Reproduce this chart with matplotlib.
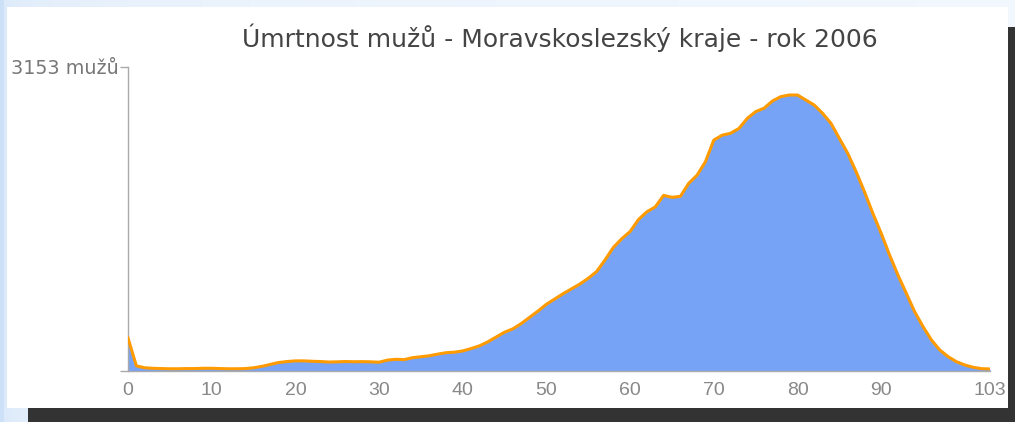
import numpy as np
import matplotlib
matplotlib.use("Agg")
import matplotlib.pyplot as plt
from matplotlib.patches import Rectangle

plt.rcParams['font.family'] = ['Liberation Sans', 'DejaVu Sans']

# --- data: deaths of men by age, Moravskoslezsky kraj 2006 ---
ages = list(range(0, 104))
deaths = [
    340, 50, 30, 25, 22, 20, 20, 22, 22, 25,
    25, 22, 20, 20, 22, 30, 45, 65, 85, 95,
    102, 102, 98, 95, 90, 92, 95, 93, 94, 92,
    88, 110, 118, 115, 135, 145, 155, 172, 187, 192,
    205, 230, 258, 300, 350, 400, 435, 490, 555, 620,
    690, 745, 800, 850, 900, 960, 1030, 1150, 1280, 1370,
    1445, 1570, 1650, 1700, 1820, 1800, 1810, 1945, 2030, 2170,
    2395, 2445, 2465, 2515, 2620, 2690, 2725, 2800, 2845, 2862,
    2862, 2810, 2758, 2672, 2568, 2412, 2257, 2066, 1858, 1634,
    1426, 1201, 993, 803, 612, 457, 319, 215, 145, 93,
    59, 35, 21, 18,
]
y_max = 3153
y_unit = "mužů"
x_ticks = [0, 10, 20, 30, 40, 50, 60, 70, 80, 90, 103]
title = "Úmrtnost mužů - Moravskoslezský kraje - rok 2006"

W, H = 1015, 422
fig = plt.figure(figsize=(W / 100, H / 100), dpi=100)

# --- page background: light blue gradient, white card, dark shadow ---
bg = fig.add_axes([0, 0, 1, 1])
bg.set_xlim(0, W)
bg.set_ylim(H, 0)
bg.axis('off')
grad = np.linspace(0, 1, 256)[None, :]
c0 = np.array([0.80, 0.88, 0.97])
c1 = np.array([0.95, 0.97, 0.995])
img = c0[None, None, :] + (c1 - c0)[None, None, :] * grad[..., None] ** 0.15
bg.imshow(img, extent=[0, W, H, 0], aspect='auto')
bg.add_patch(Rectangle((1008, 27), W - 1008, H - 27, color='#333333', lw=0))
bg.add_patch(Rectangle((28, 408), W - 28, H - 408, color='#333333', lw=0))
bg.add_patch(Rectangle((7, 7), 1001, 401, color='white', lw=0))

# --- main chart ---
left, right = 128 / W, 990 / W
bottom, top = (H - 370.7) / H, (H - 67) / H
ax = fig.add_axes([left, bottom, right - left, top - bottom])
ax.patch.set_alpha(0)

ax.fill_between(ages, deaths, 0, color='#76a3f6', lw=0, zorder=2)
ax.plot(ages, deaths, color='#ff9a00', lw=2.2, solid_joinstyle='round', zorder=3)

ax.set_xlim(0, 103)
ax.set_ylim(0, y_max)

for s in ['top', 'right']:
    ax.spines[s].set_visible(False)
for s in ['left', 'bottom']:
    ax.spines[s].set_color('#aaaaaa')
    ax.spines[s].set_linewidth(1.0)
ax.spines['bottom'].set_zorder(4)

ax.set_yticks([0, y_max])
ax.set_yticklabels(['', f'{y_max} {y_unit}'])
ax.tick_params(axis='y', direction='out', length=6, width=1.0, color='#aaaaaa',
               labelcolor='#777777', pad=1)
for lab in ax.get_yticklabels():
    lab.set_family('DejaVu Sans')
    lab.set_fontsize(13.8)

ax.set_xticks(x_ticks)
ax.set_xticklabels([str(t) for t in x_ticks])
ax.tick_params(axis='x', length=0, labelcolor='#888888', labelsize=14, pad=8)

fig.text(560 / W, (H - 38) / H, title, ha='center', va='center',
         fontsize=18, color='#444444', family='DejaVu Sans')

fig.savefig('out.png', dpi=100)
